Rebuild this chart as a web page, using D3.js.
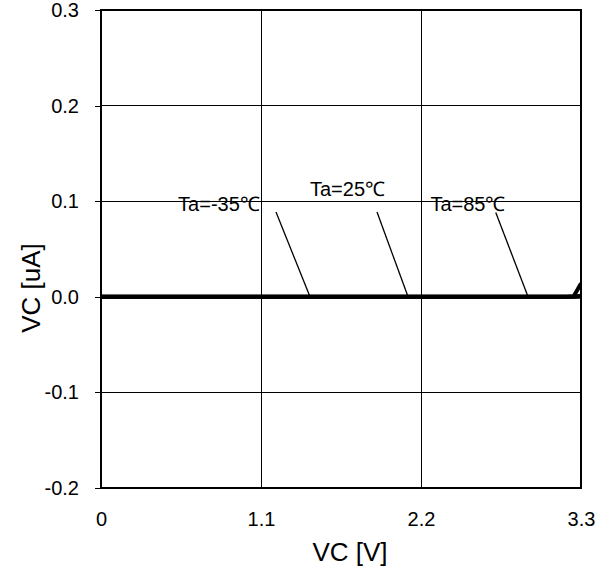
<!DOCTYPE html>
<html><head><meta charset="utf-8">
<script src="https://cdn.jsdelivr.net/npm/d3@7"></script>
<style>
body{margin:0;background:#fff;}
text{font-family:"Liberation Sans",Arial,sans-serif;fill:#000;}
</style></head>
<body><svg id="c" width="614" height="572"></svg>
<script>
// ---- data ----
const xTicks = [0, 1.1, 2.2, 3.3];
const xTickLabels = ["0", "1.1", "2.2", "3.3"];
const yTicks = [-0.2, -0.1, 0.0, 0.1, 0.2, 0.3];
const yTickLabels = ["-0.2", "-0.1", "0.0", "0.1", "0.2", "0.3"];
const seriesNames = ["Ta=-35℃", "Ta=25℃", "Ta=85℃"];
const seriesX = [0, 0.5, 1.0, 1.5, 2.0, 2.5, 3.0, 3.2, 3.25, 3.3];
const seriesM35 = [0, 0, 0, 0, 0, 0, 0, 0, 0, 0];
const series25 = [0, 0, 0, 0, 0, 0, 0, 0, 0, 0.001];
const series85 = [0, 0, 0, 0, 0, 0, 0, 0, 0.0005, 0.014];
// annotation anchors (data units): text x, text y, leader start x,y, leader end x,y
const annTextX = [0.811, 1.695, 2.523];
const annTextY = [0.0897, 0.1054, 0.0897];
const annX1 = [1.203, 1.8975, 2.714];
const annY1 = [0.0887, 0.0887, 0.0882];
const annX2 = [1.437, 2.111, 2.936];
const annY2 = [0, 0, 0];

// ---- chart ----
const svg = d3.select("#c");
const L = 101, R = 581, T = 10, B = 488;
const x = d3.scaleLinear().domain([0, 3.3]).range([L, R]);
const y = d3.scaleLinear().domain([-0.2, 0.3]).range([B, T]);

// grid
const g = svg.append("g").attr("shape-rendering", "crispEdges");
g.selectAll(".vg").data(xTicks).join("line")
  .attr("x1", d => x(d)).attr("x2", d => x(d)).attr("y1", T).attr("y2", B)
  .attr("stroke", "#000").attr("stroke-width", 1);
g.selectAll(".hg").data(yTicks).join("line")
  .attr("x1", L).attr("x2", R).attr("y1", d => y(d)).attr("y2", d => y(d))
  .attr("stroke", "#000").attr("stroke-width", 1);

// y axis (ticks outward) and x axis
const yAxis = d3.axisLeft(y).tickValues(yTicks).tickSize(6).tickPadding(16)
  .tickFormat((d, i) => yTickLabels[i]);
const ya = svg.append("g").attr("transform", `translate(${L},0)`).call(yAxis);
ya.select(".domain").remove();
ya.selectAll("line").attr("stroke", "#000").attr("stroke-width", 1).attr("shape-rendering", "crispEdges");
ya.selectAll("text").attr("font-size", 20).attr("font-family", "Liberation Sans, Arial, sans-serif").attr("fill", "#000");

const xAxis = d3.axisBottom(x).tickValues(xTicks).tickSize(0).tickPadding(24)
  .tickFormat((d, i) => xTickLabels[i]);
const xa = svg.append("g").attr("transform", `translate(0,${B})`).call(xAxis);
xa.select(".domain").remove();
xa.selectAll("text").attr("font-size", 20).attr("font-family", "Liberation Sans, Arial, sans-serif").attr("fill", "#000");

// frame
svg.append("rect").attr("x", L).attr("y", T).attr("width", R - L).attr("height", B - T)
  .attr("fill", "none").attr("stroke", "#000").attr("stroke-width", 2);

// series
const line = d3.line().x(d => x(d[0])).y(d => y(d[1]));
const clip = svg.append("clipPath").attr("id", "pc").append("rect")
  .attr("x", L).attr("y", T).attr("width", R - L).attr("height", B - T);
[seriesM35, series25, series85].forEach(vals => {
  svg.append("path").attr("clip-path", "url(#pc)")
    .datum(seriesX.map((xv, i) => [xv, vals[i]]))
    .attr("d", line).attr("fill", "none").attr("stroke", "#000").attr("stroke-width", 4);
});

// annotations
seriesNames.forEach((name, i) => {
  svg.append("line")
    .attr("x1", x(annX1[i])).attr("y1", y(annY1[i]))
    .attr("x2", x(annX2[i])).attr("y2", y(annY2[i]))
    .attr("stroke", "#000").attr("stroke-width", 1.3);
  svg.append("text").attr("x", x(annTextX[i])).attr("y", y(annTextY[i]))
    .attr("text-anchor", "middle").attr("font-size", 20).text(name);
});

// axis titles
svg.append("text").attr("x", 350).attr("y", 561).attr("text-anchor", "middle")
  .attr("font-size", 26).text("VC [V]");
svg.append("text").attr("transform", `translate(40,288) rotate(-90)`)
  .attr("text-anchor", "middle").attr("font-size", 26).text("VC [uA]");
</script></body></html>
